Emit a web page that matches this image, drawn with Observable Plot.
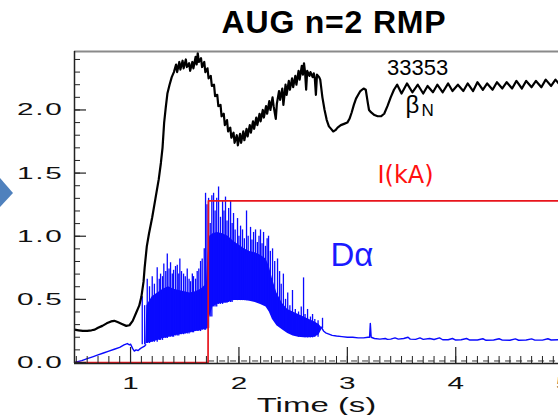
<!DOCTYPE html>
<html><head><meta charset="utf-8">
<script src="https://cdn.jsdelivr.net/npm/d3@7"></script>
<script src="https://cdn.jsdelivr.net/npm/@observablehq/plot@0.6"></script>
<style>
body{margin:0;background:#fff;}
#wrap{position:relative;width:558px;height:415px;overflow:hidden;font-family:"Liberation Sans",Arial,sans-serif;}
#title{position:absolute;left:0;top:6px;width:668px;text-align:center;font-weight:bold;font-size:32px;line-height:32px;letter-spacing:0.8px;color:#000;z-index:2;}
#deco{position:absolute;left:0;top:0;z-index:1;}
#chart{position:absolute;left:0;top:0;}
</style>
</head><body>
<div id="wrap">
  <svg id="deco" width="20" height="415"><polygon points="0,178 13,193 0,207" fill="#4f81bd"/></svg>
  <div id="chart"></div>
  <div id="title">AUG n=2 RMP</div>
</div>
<script>
// ---- axes ----
const xMin = 0.483, xMax = 4.948;
const yMin = -0.008, yMax = 2.463;
const xMajor = [1, 2, 3, 4, 5];
const yMajor = [0, 0.5, 1.0, 1.5, 2.0];
const xLabel = "Time (s)";

// ---- beta_N (black) ----
const betaT = [0.483,0.52,0.56,0.60,0.64,0.67,0.70,0.74,0.78,0.82,0.85,0.88,0.92,0.96,0.99,1.02,1.05,1.08,1.10,1.12,1.13,1.15,1.17,1.20,1.23,1.26,1.28,1.295,1.31,1.325,1.34,1.36,1.38,1.40,
1.42,1.43,1.45,1.46,1.48,1.49,1.51,1.52,1.54,1.55,1.57,1.58,1.60,1.61,1.62,1.63,1.65,1.66,1.68,1.69,1.71,1.72,1.74,1.75,1.77,1.78,1.80,1.81,1.83,1.84,1.86,1.87,1.89,1.90,1.92,1.93,1.95,1.96,1.98,1.99,
2.01,2.02,2.04,2.05,2.07,2.08,2.10,2.11,2.13,2.14,2.16,2.17,2.19,2.20,2.22,2.23,2.25,2.26,2.28,2.29,2.31,2.32,2.34,2.35,2.37,2.38,2.40,2.41,2.43,2.44,2.46,2.47,2.49,2.50,2.52,2.53,2.55,2.56,2.58,2.59,2.60,2.61,2.62,2.63,2.65,2.66,2.68,2.69,2.70,2.71,2.72,2.74,2.75,2.77,2.79,2.81,2.83,2.85,2.87,2.89,2.91,2.94,2.97,3.00,3.02,3.04,3.06,3.08,3.10,3.12,3.15,3.17,3.19,3.20,3.22,3.25,3.28,3.31,3.34,3.37,3.40,3.43,3.46,
3.50,3.55,3.60,3.65,3.70,3.74,3.79,3.83,3.88,3.93,3.97,4.02,4.07,4.11,4.16,4.20,4.25,4.29,4.34,4.38,4.43,4.47,4.52,4.56,4.61,4.65,4.70,4.74,4.79,4.83,4.88,4.92,4.95];
const betaV = [0.26,0.255,0.25,0.25,0.255,0.26,0.275,0.29,0.31,0.325,0.33,0.32,0.305,0.29,0.295,0.33,0.39,0.45,0.52,0.64,0.75,0.92,1.02,1.15,1.30,1.45,1.58,1.70,1.90,2.02,2.13,2.20,2.26,2.30,
2.36,2.30,2.38,2.32,2.39,2.33,2.40,2.34,2.37,2.31,2.38,2.33,2.42,2.36,2.45,2.38,2.41,2.34,2.38,2.30,2.33,2.25,2.27,2.19,2.20,2.11,2.12,2.03,2.04,1.95,1.97,1.88,1.92,1.83,1.86,1.78,1.82,1.74,1.80,1.72,
1.81,1.74,1.83,1.76,1.85,1.79,1.88,1.82,1.91,1.85,1.94,1.88,1.97,1.91,2.00,1.94,2.03,1.97,2.07,2.00,2.10,2.03,1.93,2.05,2.15,2.08,2.17,2.04,2.20,2.12,2.23,2.16,2.25,2.18,2.27,2.20,2.31,2.24,2.35,2.28,2.37,2.30,2.16,2.31,2.27,2.30,2.26,2.29,2.25,2.12,2.28,2.26,2.24,2.10,2.00,1.92,1.87,1.85,1.83,1.84,1.86,1.88,1.89,1.90,1.93,1.98,2.04,2.09,2.12,2.15,2.17,2.16,2.05,2.00,1.98,1.96,1.95,1.95,1.97,2.03,2.10,2.16,2.20,
2.13,2.21,2.14,2.20,2.13,2.19,2.14,2.20,2.14,2.21,2.15,2.20,2.15,2.21,2.15,2.22,2.16,2.21,2.16,2.22,2.17,2.22,2.17,2.23,2.17,2.23,2.18,2.23,2.18,2.24,2.19,2.24,2.21];

// ---- I(kA) (red) ----
const iT = [0.483, 1.715, 1.718, 4.95];
const iV = [0, 0, 1.28, 1.28];

// ---- D-alpha (blue) ----
const daPreT = [0.483,0.55,0.6,0.65,0.7,0.75,0.8,0.85,0.9,0.94,0.97,0.99,1.0,1.02,1.035,1.05,1.07,1.09,1.1,1.108,1.13,1.14];
const daPreV = [0.0,0.015,0.03,0.045,0.06,0.075,0.09,0.105,0.12,0.14,0.15,0.14,0.145,0.11,0.09,0.1,0.095,0.11,0.115,0.12,0.13,0.14];
const bandT  = [1.14,1.15,1.2,1.25,1.3,1.35,1.4,1.45,1.5,1.55,1.6,1.65,1.7,1.715,1.73,1.76,1.8,1.85,1.9,1.95,2.0,2.05,2.1,2.15,2.2,2.25,2.28,2.31,2.35,2.4,2.45,2.5,2.55,2.6,2.65,2.7,2.74,2.77];
const bandLo = [0.14,0.15,0.16,0.175,0.19,0.2,0.21,0.22,0.225,0.235,0.245,0.255,0.265,0.27,0.36,0.44,0.46,0.47,0.475,0.49,0.49,0.49,0.485,0.475,0.46,0.44,0.4,0.34,0.29,0.26,0.23,0.21,0.2,0.195,0.195,0.2,0.22,0.27];
const bandHi = [0.14,0.45,0.52,0.55,0.58,0.6,0.58,0.57,0.56,0.55,0.56,0.58,0.62,0.85,1.0,1.02,1.03,1.02,1.0,0.96,0.93,0.9,0.88,0.87,0.85,0.82,0.76,0.66,0.55,0.47,0.42,0.4,0.38,0.36,0.34,0.32,0.3,0.27];
const spikeT = [1.108,1.13,1.154,1.175,1.2,1.22,1.246,1.265,1.277,1.295,1.307,1.325,1.339,1.355,1.369,1.385,1.397,1.415,1.431,1.445,1.455,1.47,1.489,1.505,1.523,1.54,1.554,1.57,1.581,1.6,1.615,1.63,1.646,1.661,1.68,1.692,1.705,1.72,1.735,1.75,1.766,1.78,1.795,1.812,1.83,1.849,1.862,1.876,1.89,1.905,1.923,1.937,1.95,1.965,1.987,2.0,2.015,2.033,2.05,2.07,2.085,2.107,2.12,2.135,2.153,2.17,2.185,2.199,2.213,2.227,2.245,2.26,2.273,2.29,2.31,2.33,2.356,2.375,2.39,2.41,2.43,2.45,2.47,2.494,2.52,2.55,2.575,2.596,2.61,2.633,2.66,2.679,2.70,2.73,2.771];
const spikeV = [0.52,0.45,0.66,0.6,0.68,0.62,0.75,0.66,0.7,0.68,0.78,0.72,0.86,0.74,0.79,0.7,0.73,0.76,0.77,0.7,0.82,0.72,0.7,0.68,0.74,0.66,0.64,0.7,0.68,0.66,0.72,0.74,0.8,0.82,0.9,1.34,1.25,1.3,1.1,1.32,1.34,1.2,1.3,1.39,1.15,1.28,1.2,1.31,1.12,1.22,1.28,1.1,1.18,1.05,1.14,1.0,1.08,1.05,0.98,1.2,1.0,1.07,0.97,1.03,1.05,0.95,1.0,1.05,0.94,1.03,0.92,0.98,1.0,0.88,0.9,0.8,0.82,0.72,0.62,0.7,0.5,0.55,0.45,0.57,0.42,0.4,0.44,0.67,0.38,0.42,0.36,0.38,0.34,0.33,0.35];
const daPostT = [2.76,2.78,2.80,2.83,2.86,2.90,2.95,3.00,3.05,3.10,3.15,3.19,3.205,3.212,3.22,3.25,3.30,3.35,3.37,3.40,3.44,3.47,3.52,3.56,3.58,3.63,3.67,3.70,3.76,3.80,3.85,3.88,3.93,3.97,4.0,4.05,4.1,4.13,4.2,4.25,4.28,4.35,4.4,4.43,4.5,4.55,4.58,4.65,4.7,4.73,4.8,4.85,4.88,4.95];
const daPostV = [0.28,0.25,0.235,0.225,0.215,0.21,0.205,0.2,0.2,0.195,0.195,0.2,0.2,0.31,0.2,0.19,0.185,0.19,0.183,0.185,0.195,0.185,0.19,0.2,0.185,0.183,0.195,0.183,0.19,0.182,0.195,0.18,0.18,0.19,0.178,0.18,0.19,0.178,0.178,0.188,0.176,0.178,0.188,0.177,0.176,0.187,0.176,0.178,0.187,0.177,0.177,0.188,0.178,0.18];

// ---- annotations ----
const annoText = ["33353", "β", "N", "I(kA)", "Dα"];
const annoT = [3.648, 3.537, 3.685, 3.537, 2.845];
const annoV = [2.273, 1.976, 1.956, 1.42, 0.768];

// ---- build tables ----
const pts = (T, V) => T.map((t, i) => ({t, v: V[i]}));
const beta = pts(betaT, betaV);
const cur = pts(iT, iV);
const daPre = pts(daPreT, daPreV);
const daPost = pts(daPostT, daPostV);
const band = bandT.map((t, i) => ({t, lo: bandLo[i], hi: bandHi[i]}));
const loAt = t => { const i = d3.bisectRight(bandT, t) - 1; return i < 0 ? daPreV[daPreV.length - 1] : bandLo[i]; };
const spikes = spikeT.map((t, i) => ({t, top: spikeV[i], base: loAt(t)}));

const W = 558, H = 415, mL = 74, mR = 0, mT = 51, mB = 52;
const pw = W - mL - mR, ph = H - mT - mB;
const BLUE = "#0a0aff", RED = "#e8141c";

const yMinor = d3.range(0, 2.41, 0.1);
const xMinor = d3.range(0.5, 4.95, 0.1);

const ann = (k, o) => Plot.text([annoText[k]], {x: [annoT[k]], y: [annoV[k]], text: d => d, lineAnchor: "bottom", ...o});

const chart = Plot.plot({
  width: W, height: H,
  marginLeft: mL, marginRight: mR, marginTop: mT, marginBottom: mB,
  x: {domain: [xMin, xMax]},
  y: {domain: [yMin, yMax]},
  style: {fontFamily: "Liberation Sans, Arial, sans-serif", fontSize: "17px", background: "transparent", overflow: "visible", color: "#111"},
  marks: [
    Plot.areaY(band, {x: "t", y1: "lo", y2: "hi", fill: BLUE, clip: true}),
    Plot.ruleX(spikes, {x: "t", y1: "base", y2: "top", stroke: BLUE, strokeWidth: 1.3, clip: true}),
    Plot.line(daPre, {x: "t", y: "v", stroke: BLUE, strokeWidth: 1.4, clip: true}),
    Plot.line(daPost, {x: "t", y: "v", stroke: BLUE, strokeWidth: 1.4, clip: true}),
    Plot.line(beta, {x: "t", y: "v", stroke: "#000", strokeWidth: 2.2, strokeLinejoin: "round", clip: true}),
    Plot.ruleY([0.012], {x1: 1.72, x2: xMax, stroke: "#333", strokeWidth: 1, strokeDasharray: "6,5"}),
    Plot.line(cur, {x: "t", y: "v", stroke: RED, strokeWidth: 1.7, clip: true}),
    // frame
    Plot.ruleY([yMax], {stroke: "#8a8a8a", strokeWidth: 2}),
    Plot.ruleY([yMin], {stroke: "#222", strokeWidth: 1.5}),
    Plot.ruleX([xMin], {stroke: "#222", strokeWidth: 1.5}),
    // inward ticks
    Plot.tickY(yMinor, {y: d => d, insetRight: pw - 6, stroke: "#222"}),
    Plot.tickY(yMajor, {y: d => d, insetRight: pw - 12, stroke: "#222", strokeWidth: 1.2}),
    Plot.tickX(xMinor, {x: d => d, insetTop: ph - 7, stroke: "#222"}),
    Plot.tickX(xMajor.filter(d => d < xMax), {x: d => d, insetTop: ph - 16, stroke: "#222", strokeWidth: 1.2}),
    // axes labels
    Plot.axisY({ticks: yMajor, tickSize: 0, tickPadding: 11, tickFormat: d3.format(".1f"), fontSize: 17, label: null}),
    Plot.axisX({ticks: xMajor, tickSize: 0, tickPadding: 13, tickFormat: d => String(d), fontSize: 17, label: xLabel, labelAnchor: "center", labelArrow: "none", labelOffset: 48}),
    // annotations
    ann(0, {textAnchor: "middle", fontSize: 22, fill: "#000"}),
    ann(1, {textAnchor: "start", fontSize: 24, fill: "#000"}),
    ann(2, {textAnchor: "start", fontSize: 17, fill: "#000"}),
    ann(3, {textAnchor: "middle", fontSize: 24, fill: "#ff1010", fontFamily: "DejaVu Sans"}),
    ann(4, {textAnchor: "start", fontSize: 33, fill: "#1a1aff"})
  ]
});
document.getElementById("chart").appendChild(chart);

function stretch(sel, origin, s, ls) {
  chart.querySelectorAll(sel).forEach(t => {
    const g = document.createElementNS("http://www.w3.org/2000/svg", "g");
    t.parentNode.insertBefore(g, t);
    g.appendChild(t);
    if (ls) t.style.letterSpacing = ls;
    g.style.transformBox = "fill-box";
    g.style.transformOrigin = origin;
    g.style.transform = `scaleX(${s})`;
  });
}
stretch('g[aria-label="y-axis tick label"] text', "right center", 1.75, "1px");
stretch('g[aria-label="x-axis tick label"] text', "center", 1.75, "0px");
stretch('g[aria-label="x-axis label"] text', "center", 1.65, "0px");
chart.querySelectorAll('g[aria-label="x-axis label"] text').forEach(t => t.style.fontSize = "20px");
</script>
</body></html>
